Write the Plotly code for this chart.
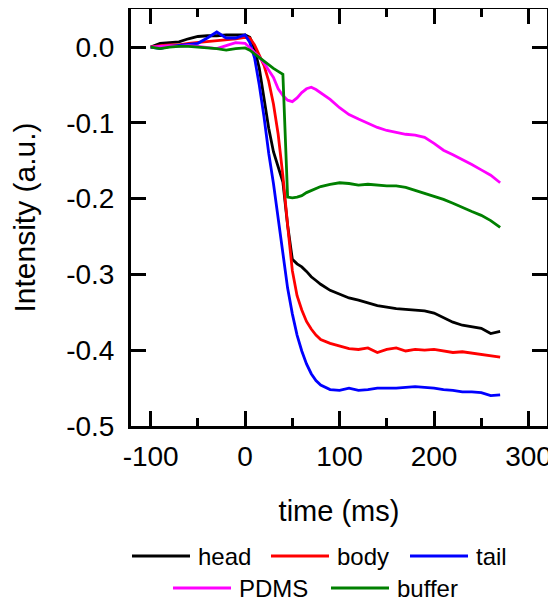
import plotly.graph_objects as go

# time axis (ms)
time_ms = [-100, -90, -80, -70, -60, -50, -40, -30, -20, -10, 0,
           5, 10, 15, 20, 25, 30, 35, 40, 45, 50, 55, 60, 65, 70, 75, 80,
           90, 100, 110, 120, 130, 140, 150, 160, 170, 180, 190, 200, 210,
           220, 230, 240, 250, 260, 270]

head = [0, 0.005, 0.006, 0.007, 0.011, 0.014, 0.015, 0.015, 0.016, 0.016, 0.016,
        0.013, -0.002, -0.028, -0.068, -0.107, -0.138, -0.158, -0.178, -0.235, -0.28,
        -0.286, -0.29, -0.296, -0.303, -0.308, -0.313,
        -0.321, -0.326, -0.331, -0.334, -0.338, -0.341, -0.343, -0.345, -0.346, -0.347,
        -0.348, -0.351, -0.357, -0.363, -0.367, -0.369, -0.371, -0.378, -0.375]

body = [0, 0.002, 0.003, 0.003, 0.005, 0.006, 0.007, 0.008, 0.010, 0.011, 0.013,
        0.012, 0.003, -0.010, -0.024, -0.045, -0.075, -0.115, -0.170, -0.235, -0.295,
        -0.328, -0.347, -0.362, -0.372, -0.380, -0.386,
        -0.391, -0.394, -0.398, -0.399, -0.397, -0.403, -0.399, -0.397, -0.401, -0.399,
        -0.400, -0.399, -0.401, -0.403, -0.402, -0.404, -0.405, -0.407, -0.409]

tail = [0, -0.002, 0.001, 0.002, 0.003, 0.005, 0.012, 0.020, 0.012, 0.012, 0.016,
        0.006, -0.014, -0.050, -0.092, -0.140, -0.180, -0.225, -0.275, -0.318, -0.352,
        -0.380, -0.401, -0.418, -0.431, -0.440, -0.446,
        -0.452, -0.453, -0.450, -0.453, -0.452, -0.450, -0.450, -0.450, -0.449, -0.448,
        -0.449, -0.450, -0.452, -0.453, -0.455, -0.455, -0.456, -0.460, -0.459]

pdms = [0, 0.001, 0.002, 0.001, 0.002, 0.001, 0.0, -0.002, 0.002, 0.006, 0.005,
        -0.001, -0.006, -0.013, -0.021, -0.030, -0.040, -0.055, -0.064, -0.070, -0.072,
        -0.067, -0.060, -0.055, -0.053, -0.056, -0.060,
        -0.069, -0.080, -0.089, -0.095, -0.101, -0.106, -0.110, -0.113, -0.115, -0.116,
        -0.119, -0.127, -0.136, -0.142, -0.148, -0.155, -0.162, -0.169, -0.179]

buffer = [0, -0.002, 0.0, 0.001, 0.001, 0.0, -0.001, -0.002, -0.004, -0.002, -0.001,
          -0.004, -0.009, -0.014, -0.019, -0.024, -0.028, -0.032, -0.036, -0.198, -0.199,
          -0.198, -0.196, -0.192, -0.189, -0.186, -0.184,
          -0.181, -0.179, -0.180, -0.182, -0.181, -0.182, -0.183, -0.183, -0.185, -0.189,
          -0.193, -0.196, -0.201, -0.206, -0.212, -0.217, -0.222, -0.229, -0.238]

series_names = ["head", "body", "tail", "PDMS", "buffer"]
series_values = [head, body, tail, pdms, buffer]
series_colors = ["#000000", "#ff0000", "#0000ff", "#ff00ff", "#008000"]
legend_rows = [0, 0, 0, 1, 1]

x_tick_vals = [-100, 0, 100, 200, 300]
x_tick_text = ["-100", "0", "100", "200", "300"]
y_tick_vals = [0.0, -0.1, -0.2, -0.3, -0.4, -0.5]
y_tick_text = ["0.0", "-0.1", "-0.2", "-0.3", "-0.4", "-0.5"]

FONT = "Liberation Sans, Arial, sans-serif"
# page body has an 8px margin, so the figure is 8px smaller than the window
OFF = 8
W, H = 556 - OFF, 601 - OFF
ML, MR, MT, MB = 131 - OFF, 9, 9 - OFF, 175
PW, PH = W - ML - MR, H - MT - MB


def px2paper_x(px):
    return (px - OFF - ML) / PW


def px2paper_y(py):
    return (H - MB - (py - OFF)) / PH


fig = go.Figure()
for name, vals, col in zip(series_names, series_values, series_colors):
    fig.add_trace(go.Scatter(x=time_ms, y=vals, mode="lines", name=name,
                             line=dict(color=col, width=2.8), showlegend=False))

axis_common = dict(
    showline=True, linewidth=3, linecolor="black", mirror="allticks",
    ticks="inside", ticklen=15, tickwidth=3, tickcolor="black",
    showgrid=False, zeroline=False, automargin=False,
    tickfont=dict(size=28, color="black", family=FONT),
)

fig.update_xaxes(
    range=[-120.8, 319.6], tickmode="array", tickvals=x_tick_vals, ticktext=x_tick_text,
    minor=dict(tickmode="linear", tick0=0, dtick=50, ticks="inside", ticklen=8,
               tickwidth=3, tickcolor="black", showgrid=False),
    title=dict(text="time (ms)", font=dict(size=29, color="black", family=FONT), standoff=31),
    ticklabelstandoff=3,
    **axis_common,
)
fig.update_yaxes(
    range=[-0.5, 0.0503], tickmode="array", tickvals=y_tick_vals, ticktext=y_tick_text,
    title=dict(text="Intensity (a.u.)", font=dict(size=30, color="black", family=FONT), standoff=22),
    ticklabelstandoff=8,
    **axis_common,
)

# legend drawn as line samples + text labels (two centred rows, long samples)
legend_row_y = [556, 588]
legend_row_start = [132, 173]
sample_len, text_gap, item_gap = 58, 6, 22
char_w = {"head": 53, "body": 53, "tail": 32, "PDMS": 72, "buffer": 66}
cursor = {0: legend_row_start[0], 1: legend_row_start[1]}
for name, col, row in zip(series_names, series_colors, legend_rows):
    x0 = cursor[row]
    yy = px2paper_y(legend_row_y[row])
    fig.add_shape(type="line", xref="paper", yref="paper",
                  x0=px2paper_x(x0), x1=px2paper_x(x0 + sample_len), y0=yy, y1=yy,
                  line=dict(color=col, width=2.8))
    fig.add_annotation(xref="paper", yref="paper", x=px2paper_x(x0 + sample_len + text_gap),
                       y=yy, text=name, showarrow=False, xanchor="left", yanchor="middle",
                       font=dict(size=24, color="black", family=FONT))
    cursor[row] = x0 + sample_len + text_gap + char_w[name] + item_gap

fig.update_layout(
    width=W, height=H,
    margin=dict(l=ML, r=MR, t=MT, b=MB),
    plot_bgcolor="white", paper_bgcolor="white",
    font=dict(family=FONT, color="black"),
    showlegend=False,
)

fig.write_html("out.html")
